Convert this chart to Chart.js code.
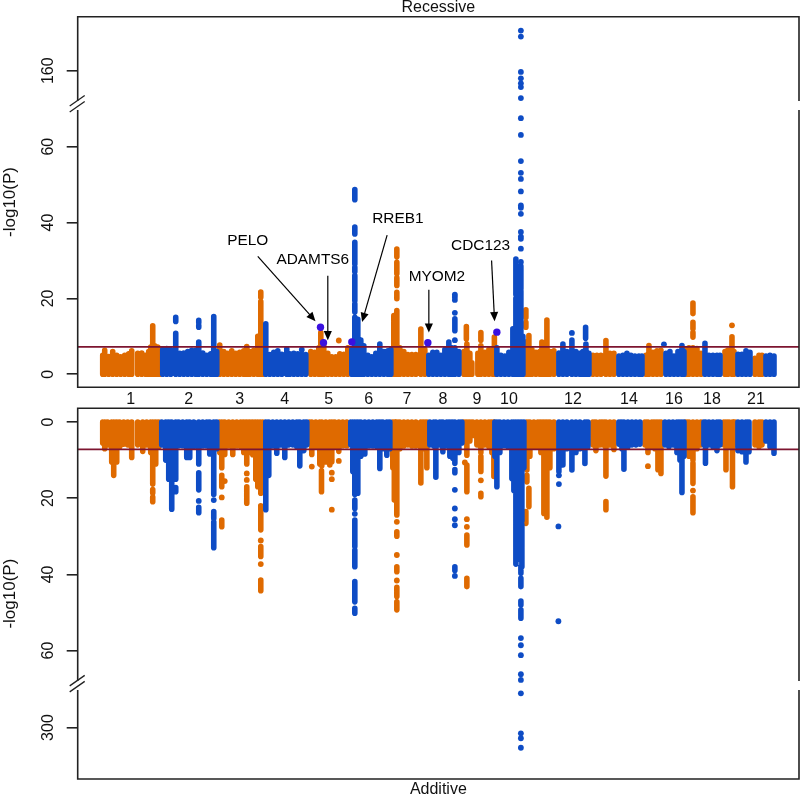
<!DOCTYPE html>
<html>
<head>
<meta charset="utf-8">
<title>Manhattan plots</title>
<script src="https://cdn.jsdelivr.net/npm/chart.js@4/dist/chart.umd.js"></script>
<style>
  html, body { margin: 0; padding: 0; background: #fff; }
  canvas { position: absolute; left: 0; }
  #recessive { top: 0; }
  #additive { top: 404px; }
</style>
</head>
<body>
<canvas id="recessive" width="800" height="408"></canvas>
<canvas id="additive" width="800" height="394"></canvas>
<script>
// x is a position along the genome in arbitrary bins, y is -log10(P)
const chromPos = [53, 111, 162, 207, 251, 291, 329, 365, 399, 431, 495, 551, 596, 634, 678];
const chromLabels = ['1', '2', '3', '4', '5', '6', '7', '8', '9', '10', '12', '14', '16', '18', '21'];
const recTicks = [0, 20, 40, 60, 160];
const addTicks = [0, 20, 40, 60, 300];
const threshold = 7.2;

// recessive: [pos, top of the solid column]
const recOrangeBody = [
  [25,5],[27,6.3],[31,4.7],[35,6],[39,5],[43,4.6],[47,5],[51,5.4],[54,6.2],[60,5.5],[64,5.6],[68,5],[71,6],[73,7.2],[75,12.8],[77,7.5],[80,7.2],[82,6.5],
  [142,7.7],[146,6],[150,5.5],[154,6.2],[158,5.5],[162,5.8],[166,6.2],[169,7.3],[172,6],[176,6.3],[180,10],[183,19.2],[185,6.5],
  [233,6],[237,5.8],[241,7],[243,11],[246,7.5],[250,5.5],[254,4.6],[258,4.6],[262,5.4],[266,5.3],[270,7],
  [316,15.5],[319,16.8],[322,7],[326,6],[330,5.2],[334,5.2],[338,5.2],[343,11.9],[347,6.5],
  [386,6],[389,8],[392,5.5],[394,3],[400,5.5],[403,7.5],[407,5.8],[411,6.5],[415,6.5],[416.5,9.8],
  [448,8.5],[451,10.2],[454,6.5],[458,5.8],[462,6],[464,8.5],[467,6.5],[469,14.3],[472,6],[476,6.2],
  [515,5],[519,5],[523,5],[528,8.9],[532,5.5],[536,5.5],
  [568,5],[571,7.6],[575,5.8],[579,6.2],[583,6.3],
  [608,6.5],[611,7],[615,7],[619,6.8],[623,5.5],
  [647,6],[650,6.4],[654,9.9],[656,6],
  [677,4.2],[681,5],[684,5]
];
const recBlueBody = [
  [85,6.5],[89,6.8],[93,6.5],[98,10.8],[102,5.5],[106,5.6],[110,6],[114,6.3],[118,6.3],[121,8.5],[125,5.6],[129,5],[133,5.4],[136,15.2],[139,6],
  [188,13.3],[192,5.2],[196,5.8],[200,6.2],[204,5.3],[209,6.7],[212,5.4],[216,5.5],[220,5.4],[224,5.3],[228,5.2],
  [274,6.5],[277,15],[280,14.5],[283,9],[286,7.5],[290,5],[294,4.6],[298,5.5],[302,8],[306,6],[310,6.2],[313,6.5],
  [351,5],[355,5.8],[359,5.8],[363,5],[367,6.5],[371,8.5],[374,7],[377,7],[381,6],
  [419,7],[423,5],[427,4.8],[431,5.8],[435,12],[438,20],[441,18],[443,22],[445,10],
  [481,5.6],[485,8],[489,6],[494,9],[498,6],[502,5.5],[505,6],[508,8],[511,5.5],
  [541,4.8],[545,5],[549,5.5],[553,5],[557,4.8],[561,4.8],[564,4.8],
  [588,5.5],[592,6],[596,4.8],[600,6],[604,7.6],[606,6],
  [627,8.2],[631,5],[635,5],[639,5],[642,5],
  [660,5.3],[664,5.3],[668,6.2],[672,5.8],
  [688,4.8],[692,5],[696,4.8]
];
// detached runs of overlapping dots: [pos, low, high]
const recOrangeRuns = [
  [183,20.3,21.7],[319,19.9,21.6],[319,23.4,25.4],[319,26.5,29.5],[319,31,33],
  [388.5,9.3,12.6],[403,9,11],[448,12.4,13.7],[448,15,17],[615,9.8,11],[615,12,13.7],[615,16,18.8]
];
const recBlueRuns = [
  [98,13.9,15],[121,12.4,12.9],[121,13.6,14.2],[277,16.4,18.6],[277,19.4,26],[277,27,28.2],[277,29,34.8],[277,37,38.8],[277,46,48.7],
  [377,11.5,14.6],[438,21,30.4],[441,21,27.5],[443,22.5,28.5],[507.7,9.5,12.4]
];
// single dots: [pos, value]
const recOrangeDots = [[261,8.9],[654,12.9]];
const recBlueDots = [
  [224,6.5],[377,9],[377,16.2],[377,19.6],[377,20.4],[377,21],[494,10.9],[586,7.9],
  [443,29.6],[443,33.1],[443,35.7],[443,36.3],[443,37.5],[443,42.3],[443,43.9],[443,44.5],[443,48.2],[443,51.5],[443,53.1],[443,56.2],[443,63.1],[443,67.5],
  [443,152.8],[443,155.7],[443,156.7],[443,158],[443,159.7],[443,169],[443,170.6]
];
const recHighlights = [[242.7,12.4],[245.7,8.3],[274,8.5],[350,8.3],[419,11.1]];

// additive: [pos, depth of the solid column]
const addOrangeBody = [
  [25,5.5],[27,7],[30,6],[34,10.5],[36,14],[39,10.5],[42,6.5],[46,5.8],[50,6],[54,9.3],[60,6],[65,7.7],[69,6],[73,8],[75,16.3],[78,11],[81,6.5],
  [142,8],[144,12],[147,8.5],[151,6.3],[155,8.5],[159,6.3],[163,6.5],[166,8],[169,11],[172,8],[175,8.6],[178,15],[180,17],[183,18.7],[185,7],
  [232,5.5],[234,8.5],[238,6.5],[242,11],[244,11.5],[248,10.5],[252,11.3],[254,10.4],[257,6.5],[261,7.7],[265,6.2],[269,6.2],
  [315,12],[316.5,20.5],[319,24.4],[322,7],[326,6.3],[330,6],[334,6.3],[338,6.3],[343,16],[346,7],[349,12],
  [386,5],[389,8.7],[392,5],[395,3.5],[399,6],[403,8],[407,6],[411,6.5],[414,8],[416,14.3],
  [449,12.6],[452,9],[456,6.5],[460,6.5],[463,8],[466,24],[469,25],[472,12],[476,7],
  [515,6],[518,7.5],[522,6],[525,6],[528,14.2],[532,6],[536,7.2],
  [567,6],[570,8],[574,6.5],[577,7],[580,12.5],[583,13.5],
  [608,6],[611,9],[615,10],[619,7],[623,6],
  [646,6],[648,12.5],[651,6.5],[654.5,17],[657,6],
  [677,6],[681,6.5],[684,6]
];
const addBlueBody = [
  [84,6],[88,10],[91,15],[94,22.9],[98,15],[101,6.2],[105,6.2],[109,9.3],[112,9.3],[116,6.5],[121,11],[125,6.3],[129,6.3],[132,8.4],[136,19],[139,7],
  [188,23],[191,14],[195,6.3],[199,8.2],[203,6],[207,9.3],[211,6],[215,6],[219,6.5],[222,11.5],[226,7.5],[229,6],
  [273,6],[275,13],[277,19],[280,18.7],[283,9],[287,8.4],[291,6.3],[295,6.3],[299,6.5],[302,12.2],[305,7],[309,8.7],[312,7],
  [352,6],[356,6.3],[358,14.5],[362,6],[365,7.8],[369,6.3],[372,9],[375,9.5],[377,10.8],[381,8],[384,5.5],
  [417,9],[419,17],[422,8],[426,6.2],[430,6.5],[434,14.8],[436,18],[438,25],[441,26.6],[444,26],[446,12],
  [481,13],[485,11.3],[489,7],[494,12.6],[498,8],[502,7],[507,10.9],[510,6.5],
  [541,5.8],[544,7],[546,12.4],[550,6.5],[554,6],[558,6],[562,5.8],
  [587,6],[591,6.5],[595,6],[599,8],[602,10],[604,18.5],[606,9],
  [626,6],[627.5,10.8],[631,6],[635,6.5],[639,7.5],[642,6],
  [660,7.5],[664,7.8],[668,10.5],[671,7.8],
  [688,5],[692,6.5],[696,8.2]
];
const addOrangeRuns = [
  [75,17.7,18.6],[75,19.7,20.9],[144,14,17],[144,25.7,27.5],[169,17,21.3],
  [183,22,28.3],[183,32.7,35.3],[183,41.5,44.3],[243.7,12.8,18.3],
  [319,28.8,30],[319,38,39.3],[319,43.4,45.8],[319,47.2,49.3],
  [389,11.3,18.3],[389,29.7,32.3],[389,41,43.2],[403,9,13],[403,18.7,19.6],
  [449,14,15.7],[451,17.4,22.2],[448,23.5,26.6],[528,20.9,23],[615,10.8,16.1],[615,19.6,23.8]
];
const addBlueRuns = [
  [98,17.2,18.3],[121,13.3,17.8],[121,22.4,23.8],[136,23.5,25.3],[136,26.2,33],
  [277,20.5,22.7],[277,25.7,32.7],[277,33.6,38],[277,41.9,47.2],[277,48.9,50.2],
  [377,12.5,13.3],[377,38,39],[438,25,37.3],[441,26,36],[444,27,38],[443,38,39.7],[443,41,43.2],[443,47,48],[443,49.3,51.5]
];
const addOrangeDots = [
  [147,15.5],[144,19.8],[169,13.5],[169,15.2],[183,31.1],[183,37.3],[234,11.7],[254,13.3],[254,15],[254,23],[261,10.2],
  [319,26.2],[319,34.9],[319,41.6],[387,10.6],[389,25.5],[389,27.5],[403,15.3],[570,11.6],[615,18]
];
const addBlueDots = [
  [121,20.7],[136,20.5],[277,24.1],[377,17.8],[377,22.7],[377,25.5],[377,27.1],[377,40.4],[481,14],[481,16.3],[480.5,27.4],[480.5,52.3],
  [443,56.7],[443,58.6],[443,61.2],[443,66.2],[443,67.7],[443,291],[443,301.5],[443,302.8],[443,305.3]
];

const ORANGE = '#df6a00';
const BLUE = '#0e4cc5';
const HILITE = '#3a10e0';
const LINE_RED = '#7d1530';
const FRAME = '#222';
const FONT = '"Liberation Sans", Arial, sans-serif';

// gene labels of the upper panel, in data units
const geneNotes = [
  { text: 'PELO', at: [170, 35.1], from: [180, 31.1], to: [237.7, 14] },
  { text: 'ADAMTS6', at: [235, 30.3], from: [250, 26], to: [250, 9] },
  { text: 'RREB1', at: [320, 40.9], from: [309.3, 36.7], to: [284.3, 13.8] },
  { text: 'MYOM2', at: [359, 25.7], from: [351, 22.3], to: [351, 11] },
  { text: 'CDC123', at: [402.7, 33.9], from: [413.7, 30], to: [416.7, 14] }
];

// linear axis with a piece cut out of it
class BrokenScale extends Chart.LinearScale {
  static id = 'broken';
  static defaults = Chart.LinearScale.defaults;
  getPixelForValue(v) {
    if (v === null || v === undefined || isNaN(v)) return NaN;
    const lo = this.options.breakLow, hi = this.options.breakHigh;
    const kept = v <= lo ? v : (v >= hi ? v - (hi - lo) : lo);
    return this.getPixelForDecimal((kept - this.min) / (this.max - this.min - (hi - lo)));
  }
}
Chart.register(BrokenScale);

function stems(body, runs) {
  const pts = [];
  body.forEach(function (b) { pts.push({ x: b[0], y: 0 }, { x: b[0], y: b[1] }, { x: b[0], y: null }); });
  runs.forEach(function (r) { pts.push({ x: r[0], y: r[1] }, { x: r[0], y: r[2] }, { x: r[0], y: null }); });
  return pts;
}

function dots(list) {
  return list.map(function (d) { return { x: d[0], y: d[1] }; });
}

function stemSet(data, color, order) {
  return { data: data, borderColor: color, borderWidth: 5.6, borderCapStyle: 'round', pointRadius: 0, fill: false, spanGaps: false, order: order };
}

function dotSet(data, color, radius, order) {
  return { data: data, showLine: false, pointRadius: radius, pointBackgroundColor: color, pointBorderWidth: 0, order: order };
}

const framePlugin = {
  id: 'frame',
  afterDatasetsDraw: function (chart) {
    const a = chart.chartArea, ctx = chart.ctx;
    const by = chart.scales.y.getPixelForValue(chart.options.scales.y.breakLow);
    ctx.save();
    ctx.strokeStyle = FRAME;
    ctx.lineWidth = 1.6;
    ctx.beginPath();
    ctx.moveTo(a.left, by - 4);
    ctx.lineTo(a.left, a.top);
    ctx.lineTo(a.right, a.top);
    ctx.lineTo(a.right, by - 4);
    ctx.moveTo(a.right, by + 5);
    ctx.lineTo(a.right, a.bottom);
    ctx.lineTo(a.left, a.bottom);
    ctx.lineTo(a.left, by + 5);
    ctx.stroke();
    // the two slashes of the axis break
    ctx.lineWidth = 1.3;
    ctx.beginPath();
    ctx.moveTo(a.left - 8, by + 1); ctx.lineTo(a.left + 7, by - 9.5);
    ctx.moveTo(a.left - 8, by + 7); ctx.lineTo(a.left + 7, by - 3.5);
    ctx.stroke();
    ctx.restore();
  }
};

const notesPlugin = {
  id: 'notes',
  afterDatasetsDraw: function (chart) {
    const ctx = chart.ctx, sx = chart.scales.x, sy = chart.scales.y;
    ctx.save();
    ctx.fillStyle = '#000';
    ctx.strokeStyle = '#000';
    ctx.lineWidth = 1.2;
    ctx.font = '15.4px ' + FONT;
    ctx.textAlign = 'center';
    ctx.textBaseline = 'middle';
    geneNotes.forEach(function (n) {
      const x0 = sx.getPixelForValue(n.from[0]), y0 = sy.getPixelForValue(n.from[1]);
      const x1 = sx.getPixelForValue(n.to[0]), y1 = sy.getPixelForValue(n.to[1]);
      const ang = Math.atan2(y1 - y0, x1 - x0);
      ctx.fillText(n.text, sx.getPixelForValue(n.at[0]), sy.getPixelForValue(n.at[1]));
      ctx.beginPath();
      ctx.moveTo(x0, y0);
      ctx.lineTo(x1 - 6 * Math.cos(ang), y1 - 6 * Math.sin(ang));
      ctx.stroke();
      ctx.beginPath();
      ctx.moveTo(x1, y1);
      ctx.lineTo(x1 - 10 * Math.cos(ang - 0.42), y1 - 10 * Math.sin(ang - 0.42));
      ctx.lineTo(x1 - 10 * Math.cos(ang + 0.42), y1 - 10 * Math.sin(ang + 0.42));
      ctx.closePath();
      ctx.fill();
    });
    ctx.restore();
  }
};

function yAxis(ticks, extra) {
  return Object.assign({
    type: 'broken',
    afterBuildTicks: function (scale) { scale.ticks = ticks.map(function (v) { return { value: v }; }); },
    afterFit: function (scale) { scale.width = 77.7; scale.paddingTop = 0; scale.paddingBottom = 0; },
    border: { display: false },
    grid: { drawOnChartArea: false, drawTicks: true, tickLength: 11, color: FRAME, lineWidth: 1.6 },
    ticks: {
      autoSkip: false, minRotation: 90, maxRotation: 90, crossAlign: 'center', padding: 5, color: '#111',
      font: { family: FONT, size: 16 },
      callback: function (v) { return String(v); }
    },
    title: { display: true, text: '-log10(P)', color: '#111', padding: 0, font: { family: FONT, size: 17 } }
  }, extra);
}

function baseOptions(scales, title, padding) {
  return {
    responsive: false,
    animation: false,
    events: [],
    layout: { autoPadding: false, padding: padding },
    plugins: { legend: { display: false }, tooltip: { enabled: false }, title: title },
    scales: scales
  };
}

const xLimits = { type: 'linear', min: 0, max: 721 };

new Chart(document.getElementById('recessive'), {
  type: 'line',
  data: {
    datasets: [
      stemSet(stems(recOrangeBody, recOrangeRuns), ORANGE, 6),
      dotSet(dots(recOrangeDots), ORANGE, 2.9, 5),
      stemSet(stems(recBlueBody, recBlueRuns), BLUE, 4),
      dotSet(dots(recBlueDots), BLUE, 2.9, 3),
      { data: [{ x: 0, y: threshold }, { x: 721, y: threshold }], borderColor: LINE_RED, borderWidth: 1.7, pointRadius: 0, order: 2 },
      dotSet(dots(recHighlights), HILITE, 3.7, 1)
    ]
  },
  options: baseOptions({
    x: Object.assign({}, xLimits, {
      afterBuildTicks: function (scale) { scale.ticks = chromPos.map(function (v) { return { value: v }; }); },
      afterFit: function (scale) { scale.height = 20.7; scale.paddingLeft = 0; scale.paddingRight = 0; },
      border: { display: false },
      grid: { display: false, drawTicks: false },
      ticks: {
        autoSkip: false, maxRotation: 0, padding: 3, color: '#111',
        font: { family: FONT, size: 16 },
        callback: function (v, i) { return chromLabels[i]; }
      }
    }),
    y: yAxis(recTicks, { min: -3.43, max: 174.25, breakLow: 71, breakHigh: 151 })
  }, {
    display: true, text: 'Recessive', fullSize: false, color: '#111', padding: { top: 0, bottom: 0.7 },
    font: { family: FONT, size: 16, weight: 'normal', lineHeight: 1 }
  }, { right: 1 }),
  plugins: [framePlugin, notesPlugin]
});

new Chart(document.getElementById('additive'), {
  type: 'line',
  data: {
    datasets: [
      stemSet(stems(addOrangeBody, addOrangeRuns), ORANGE, 6),
      dotSet(dots(addOrangeDots), ORANGE, 2.9, 5),
      stemSet(stems(addBlueBody, addBlueRuns), BLUE, 4),
      dotSet(dots(addBlueDots), BLUE, 2.9, 3),
      { data: [{ x: 0, y: threshold }, { x: 721, y: threshold }], borderColor: LINE_RED, borderWidth: 1.7, pointRadius: 0, order: 2 }
    ]
  },
  options: baseOptions({
    x: Object.assign({}, xLimits, { display: false }),
    y: yAxis(addTicks, { reverse: true, min: -3.6, max: 313.5, breakLow: 69, breakHigh: 288.8 })
  }, {
    display: true, text: 'Additive', position: 'bottom', fullSize: false, color: '#111', padding: { top: 3, bottom: 0 },
    font: { family: FONT, size: 16, weight: 'normal', lineHeight: 1 }
  }, { right: 1, top: 4.3 }),
  plugins: [framePlugin]
});
</script>
</body>
</html>
